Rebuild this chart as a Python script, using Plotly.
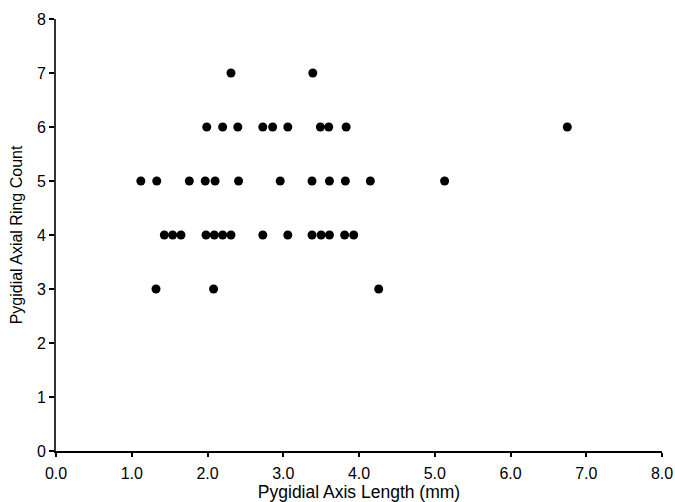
import plotly.graph_objects as go

# Pygidial axis length (mm) and axial ring count, grouped by ring count
len_ring7 = [2.31, 3.39]
len_ring6 = [1.99, 2.20, 2.40, 2.73, 2.86, 3.06, 3.49, 3.60, 3.83, 6.75]
len_ring5 = [1.12, 1.33, 1.76, 1.97, 2.10, 2.41, 2.96, 3.38, 3.61, 3.82, 4.15, 5.13]
len_ring4 = [1.43, 1.54, 1.65, 1.98, 2.09, 2.20, 2.31, 2.73, 3.06, 3.38, 3.50,
             3.61, 3.81, 3.93]
len_ring3 = [1.32, 2.08, 4.26]

ring_groups = {7: len_ring7, 6: len_ring6, 5: len_ring5, 4: len_ring4, 3: len_ring3}

x_vals = []
y_vals = []
for rings, lengths in ring_groups.items():
    x_vals.extend(lengths)
    y_vals.extend([rings] * len(lengths))

x_ticks = [0, 1, 2, 3, 4, 5, 6, 7, 8]
x_tick_labels = ["0.0", "1.0", "2.0", "3.0", "4.0", "5.0", "6.0", "7.0", "8.0"]
y_ticks = [0, 1, 2, 3, 4, 5, 6, 7, 8]

font_family = "Liberation Sans, Arial, sans-serif"

fig = go.Figure(
    go.Scatter(
        x=x_vals,
        y=y_vals,
        mode="markers",
        marker=dict(color="black", size=9, line=dict(width=0)),
        cliponaxis=False,
        showlegend=False,
    )
)

fig.update_layout(
    width=675,
    height=502,
    margin=dict(l=56, r=13, t=19, b=51),
    paper_bgcolor="white",
    plot_bgcolor="white",
    font=dict(family=font_family, size=15, color="black"),
)

fig.update_xaxes(
    range=[0, 8],
    tickvals=x_ticks,
    ticktext=x_tick_labels,
    showgrid=False,
    zeroline=False,
    showline=True,
    linecolor="black",
    linewidth=2,
    ticks="outside",
    ticklen=4,
    tickwidth=1.5,
    tickcolor="black",
    tickfont=dict(size=16),
    ticklabelstandoff=3,
    automargin=False,
    title=dict(text="Pygidial Axis Length (mm)", font=dict(size=17.5), standoff=7),
)

fig.update_yaxes(
    range=[0, 8],
    tickvals=y_ticks,
    showgrid=False,
    zeroline=False,
    showline=True,
    linecolor="#333333",
    linewidth=2,
    ticks="outside",
    ticklen=5,
    tickwidth=1.5,
    tickcolor="black",
    tickfont=dict(size=16),
    automargin=False,
    title=dict(text="Pygidial Axial Ring Count", font=dict(size=16), standoff=10),
)

fig.write_html("out.html")
